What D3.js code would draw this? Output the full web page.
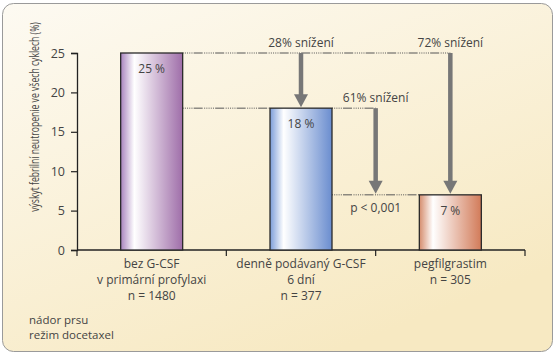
<!DOCTYPE html>
<html><head><meta charset="utf-8">
<script src="https://cdn.jsdelivr.net/npm/d3@7"></script>
<style>
html,body{margin:0;padding:0;background:#fff;}
svg{display:block;font-family:"Open Sans","Noto Sans",sans-serif;}
</style></head>
<body>
<svg id="c" width="556" height="358"></svg>
<script>
const categories = ["bez G-CSF|v primární profylaxi|n = 1480", "denně podávaný G-CSF|6 dní|n = 377", "pegfilgrastim|n = 305"];
const values = [25, 18, 7];
const valueLabels = ["25 %", "18 %", "7 %"];
const yTicks = [0, 5, 10, 15, 20, 25];
const reductions = [
  {from: 0, to: 1, label: "28% snížení"},
  {from: 1, to: 2, label: "61% snížení"},
  {from: 0, to: 2, label: "72% snížení"}
];
const yTitle = "výskyt febrilní neutropenie ve všech cyklech (%)";
const pLabel = "p < 0,001";
const note = ["nádor prsu", "režim docetaxel"];
const barColors = [["#a883be", "#9f6ea9"], ["#7c9dd9", "#6a8dcf"], ["#d58c6d", "#d27b59"]];

const svg = d3.select("#c");
const defs = svg.append("defs");

// background panel
const bg = defs.append("linearGradient").attr("id","bg").attr("x1","0").attr("y1","0").attr("x2","0.6").attr("y2","1");
bg.append("stop").attr("offset","0").attr("stop-color","#fdfaf2");
bg.append("stop").attr("offset","1").attr("stop-color","#f7e9c2");
svg.append("rect").attr("x",2.5).attr("y",3.5).attr("width",550).attr("height",348).attr("rx",11)
  .attr("fill","url(#bg)").attr("stroke","#9a9a9a").attr("stroke-width",1);

barColors.forEach((c,i)=>{
  const g = defs.append("linearGradient").attr("id","bar"+i).attr("x1","0").attr("x2","1").attr("y1","0").attr("y2","0");
  g.append("stop").attr("offset","0").attr("stop-color",c[0]);
  g.append("stop").attr("offset","0.22").attr("stop-color","#ffffff");
  g.append("stop").attr("offset","1").attr("stop-color",c[1]);
});

const x = d3.scaleBand().domain(categories).range([77, 525]).paddingInner(0).paddingOuter(0);
const y = d3.scaleLinear().domain([0, 25]).range([250, 53]);
const bw = 62;
const cx = i => x(categories[i]) + x.bandwidth()/2;

// y axis
const yAxis = svg.append("g").attr("transform","translate(77,0)")
  .call(d3.axisLeft(y).tickValues(yTicks).tickSize(6).tickPadding(6));
yAxis.select(".domain").attr("stroke","#222").attr("stroke-width",1.3);
yAxis.selectAll(".tick line").attr("stroke","#222").attr("stroke-width",1.2);
yAxis.selectAll(".tick text").attr("fill","#444").attr("font-size",12.5).attr("font-family","Open Sans");

// x axis
const xAxis = svg.append("g").attr("transform","translate(0,250)");
xAxis.append("line").attr("x1",77).attr("x2",525).attr("stroke","#222").attr("stroke-width",1.3);
[77, ...categories.map(c => x(c) + x.bandwidth())].forEach(t=>{
  xAxis.append("line").attr("x1",t).attr("x2",t).attr("y1",0).attr("y2",6).attr("stroke","#222").attr("stroke-width",1.2);
});
categories.forEach((c,i)=>{
  const lines = c.split("|");
  const t = xAxis.append("text").attr("text-anchor","middle").attr("fill","#444").attr("font-size",12);
  lines.forEach((l,j)=> t.append("tspan").attr("x",cx(i)).attr("y",18+16*j).text(l));
});

// y title (horizontally condensed to match the narrow original typeface)
const tg = svg.append("g");
const tt = tg.append("text").attr("text-anchor","middle").attr("fill","#444").attr("font-size",12).text(yTitle);
const natural = tt.node().getComputedTextLength();
const sx = 190 / natural;
tg.attr("transform",`translate(39,117) rotate(-90) scale(${sx},1)`);

// reference dotted lines
const dash = "1,1.2,1,1.2,1,1.2,1,1.2,1,1.2,9,1.5";
function hline(x1,x2,v){
  svg.append("line").attr("x1",x1).attr("x2",x2).attr("y1",y(v)).attr("y2",y(v))
    .attr("stroke","#555").attr("stroke-width",1).attr("stroke-dasharray",dash);
}
const arrowX = [cx(1), (x(categories[2])), cx(2)];
hline(cx(0)+bw/2, arrowX[2], values[0]);
hline(cx(0)+bw/2, cx(1)-bw/2, values[1]);
hline(cx(1)+bw/2, arrowX[1], values[1]);
hline(cx(1)+bw/2, cx(2)-bw/2, values[2]);

// bars
svg.selectAll("rect.bar").data(values).enter().append("rect").attr("class","bar")
  .attr("x",(d,i)=>cx(i)-bw/2).attr("width",bw)
  .attr("y",d=>y(d)).attr("height",d=>y(0)-y(d))
  .attr("fill",(d,i)=>`url(#bar${i})`).attr("stroke","#2a2a2a").attr("stroke-width",1.3);
svg.selectAll("text.vl").data(values).enter().append("text").attr("class","vl")
  .attr("x",(d,i)=>cx(i)).attr("y",d=>y(d)+20).attr("text-anchor","middle")
  .attr("fill","#444").attr("font-size",12).text((d,i)=>valueLabels[i]);

// arrows
reductions.forEach((r,k)=>{
  const ax = arrowX[k];
  const y1 = y(values[r.from]), y2 = y(values[r.to]);
  svg.append("line").attr("x1",ax).attr("x2",ax).attr("y1",y1).attr("y2",y2-12)
    .attr("stroke","#777").attr("stroke-width",4.5);
  svg.append("path").attr("d",`M${ax-7},${y2-14}L${ax+7},${y2-14}L${ax},${y2-1}Z`).attr("fill","#777");
  svg.append("text").attr("x",ax).attr("y",y1-6).attr("text-anchor","middle")
    .attr("fill","#444").attr("font-size",12).text(r.label);
});

svg.append("text").attr("x",arrowX[1]).attr("y",y(values[2])+17).attr("text-anchor","middle")
  .attr("fill","#444").attr("font-size",12).text(pLabel);

const nt = svg.append("text").attr("fill","#444").attr("font-size",11.5);
note.forEach((l,j)=>nt.append("tspan").attr("x",29).attr("y",324+15*j).text(l));
</script>
</body></html>
